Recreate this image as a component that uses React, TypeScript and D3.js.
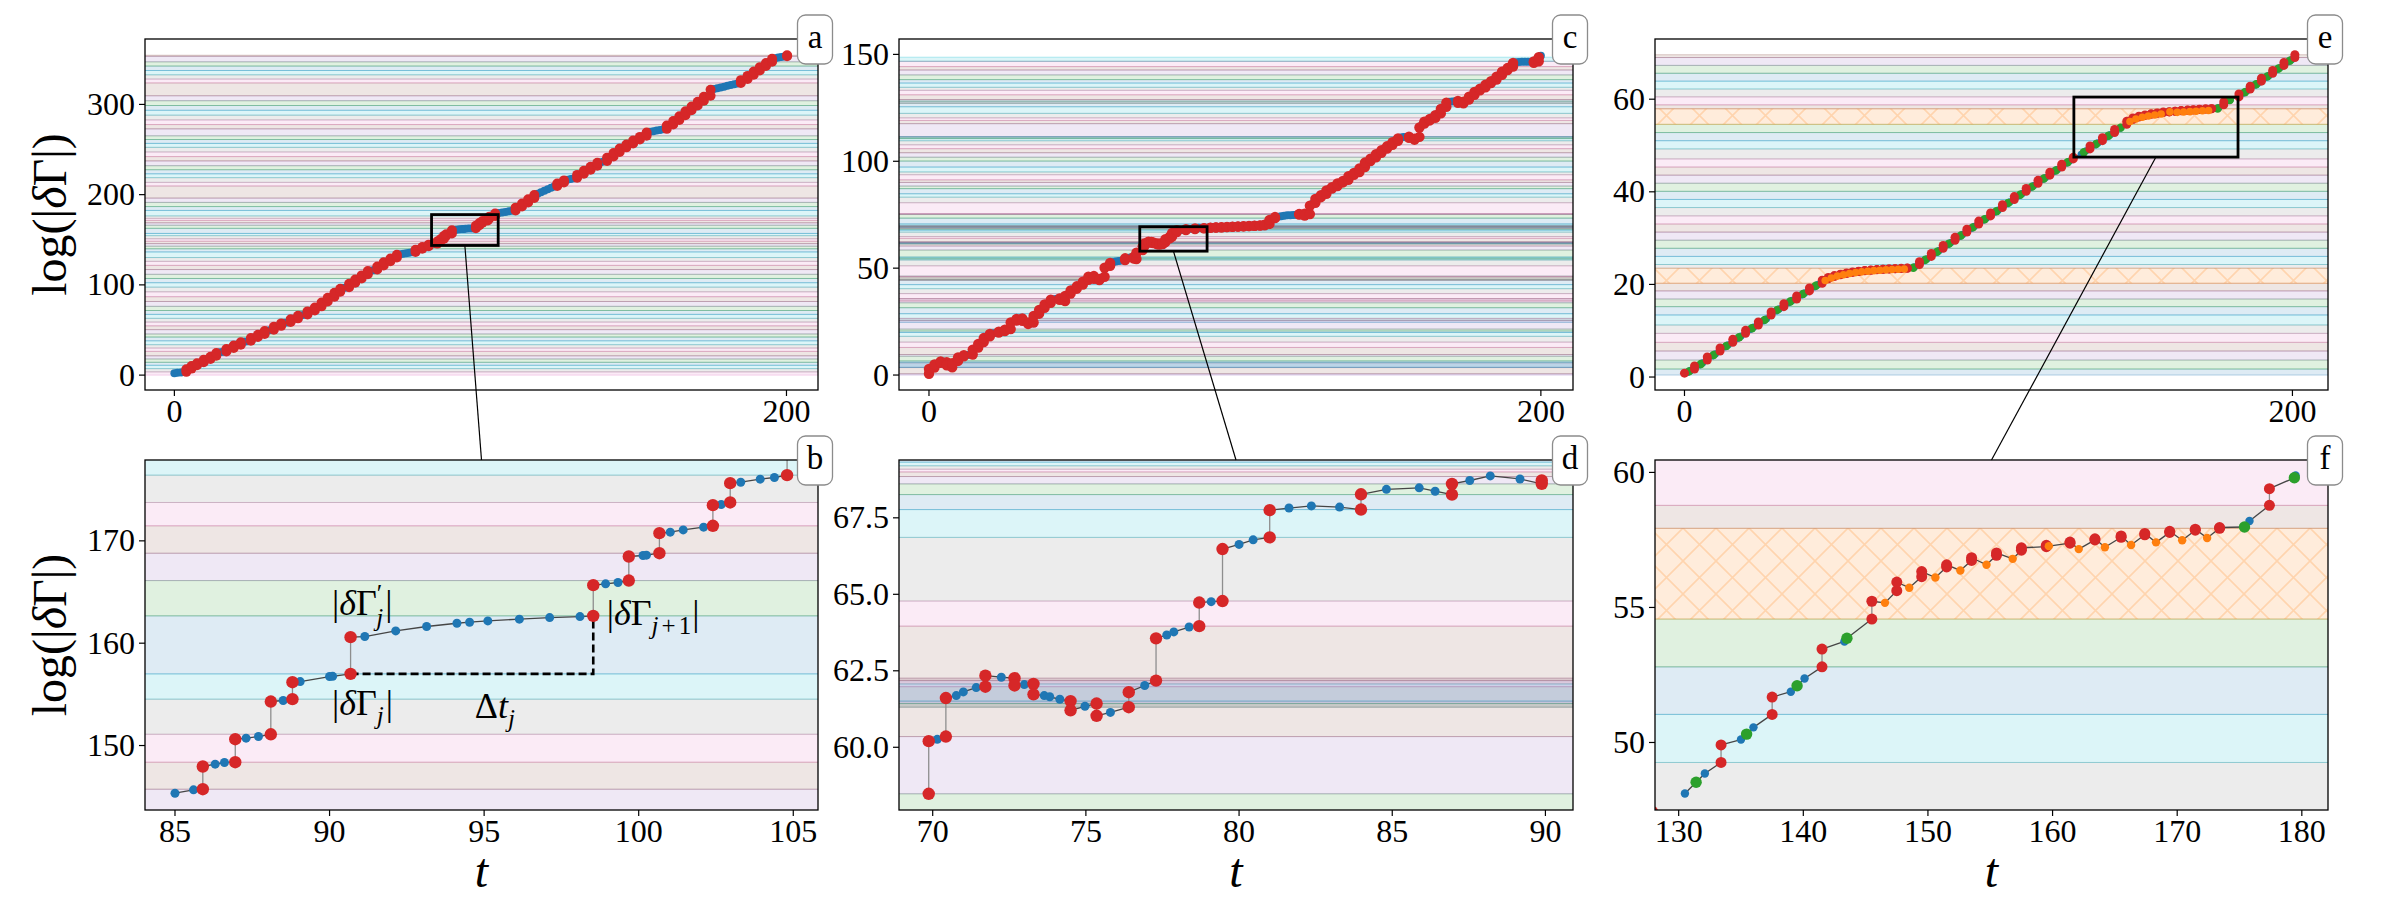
import React, { useEffect, useRef } from 'react';
import * as d3 from 'd3';

type Pt = [number, number];
type Jump = [number, number, number]; // t, value before the jump, value after it

const tab = {
  blue: '#1f77b4', orange: '#ff7f0e', green: '#2ca02c', red: '#d62728', purple: '#9467bd',
  brown: '#8c564b', pink: '#e377c2', gray: '#7f7f7f', cyan: '#17becf',
};
const bandCycle = [tab.blue, tab.green, tab.purple, tab.brown, tab.pink, tab.gray, tab.cyan];

// ---------- column 1: panels a, b ----------
const jumpsA: Jump[] = [
  [3.9, 3.6, 6.4], [5.6, 7.2, 10.1], [7.4, 10.9, 13.2], [9.6, 14.2, 16.9], [11.8, 17.9, 20.3],
  [13.7, 21.4, 24.6], [17.0, 26.3, 29.0], [19.4, 30.0, 32.7], [21.7, 33.7, 36.5], [25.0, 38.0, 41.2],
  [27.3, 42.2, 44.6], [29.5, 45.6, 48.9], [32.5, 50.4, 53.6], [34.9, 54.6, 57.3], [38.0, 58.8, 61.9],
  [40.4, 62.9, 65.8], [43.5, 67.3, 70.6], [45.9, 71.6, 74.8], [48.1, 76.2, 80.4], [50.1, 81.6, 85.7],
  [52.3, 86.9, 91.2], [54.2, 92.3, 95.8], [57.1, 97.5, 101.2], [59.1, 102.4, 106.0], [61.2, 107.1, 110.5],
  [63.2, 111.7, 115.3], [66.3, 117.0, 120.4], [68.4, 121.6, 125.0], [70.6, 126.1, 129.2], [72.7, 130.3, 133.4],
  [78.8, 136.5, 139.0], [81.0, 140.0, 142.0], [83.1, 142.9, 144.6],
  [85.9, 145.73, 147.95], [86.95, 148.37, 150.62], [88.1, 151.1, 154.3], [88.8, 154.53, 156.19],
  [90.68, 157.0, 160.59], [98.53, 162.67, 165.67], [99.68, 166.12, 168.47], [100.67, 168.79, 170.75],
  [102.4, 171.47, 173.49], [102.96, 173.75, 175.64], [104.8, 176.42, 179.0],
  [111.5, 182.5, 185.6], [113.6, 186.8, 190.2], [115.6, 191.4, 195.0], [117.6, 196.2, 199.5],
  [125.1, 209.6, 212.4], [127.3, 213.6, 215.8], [131.6, 218.8, 221.9], [133.8, 223.1, 226.4],
  [136.0, 227.6, 230.9], [138.2, 232.1, 235.3], [141.4, 237.4, 241.0], [143.5, 242.2, 246.1],
  [145.5, 247.3, 251.2], [147.7, 252.4, 255.6], [149.9, 256.8, 259.9], [152.1, 261.1, 264.0],
  [154.3, 265.2, 268.9], [160.9, 272.9, 276.5], [163.0, 277.7, 281.6], [165.0, 282.8, 286.9],
  [167.0, 288.1, 292.3], [169.0, 293.5, 297.6], [171.0, 298.8, 302.9], [173.0, 304.1, 308.4],
  [175.2, 309.6, 316.2], [185.1, 323.8, 326.9], [187.3, 328.1, 331.6], [189.3, 332.8, 336.4],
  [191.3, 337.6, 341.3], [193.3, 342.5, 346.0], [195.3, 347.2, 350.6], [200.2, 353.3, 354.5],
];
const blueA: Pt[] = [
  [0.0, 2.2], [1.0, 2.6], [2.2, 3.0], [3.2, 3.4], [4.8, 6.9], [6.5, 10.6], [8.5, 13.8], [10.7, 17.5],
  [12.8, 20.9], [14.9, 25.3], [16.0, 25.9], [18.2, 29.6], [20.6, 33.3], [22.9, 37.1], [24.0, 37.6],
  [26.1, 41.8], [28.4, 45.2], [30.6, 49.5], [31.6, 50.0], [33.7, 54.2], [36.0, 57.9], [37.1, 58.4],
  [39.2, 62.5], [41.5, 66.4], [42.6, 66.9], [44.7, 71.2], [47.0, 75.4], [49.1, 81.1], [51.2, 86.4],
  [53.3, 91.9], [55.2, 96.5], [56.2, 97.1], [58.1, 101.9], [60.1, 106.7], [62.2, 111.2], [64.3, 116.0],
  [65.3, 116.6], [67.4, 121.1], [69.5, 125.7], [71.7, 129.9], [73.8, 134.0], [74.8, 134.6], [75.8, 135.1],
  [76.8, 135.6], [77.8, 136.1], [79.9, 139.6], [82.1, 142.6],
  [85.0, 145.34], [85.6, 145.67], [86.3, 148.18], [86.6, 148.34], [87.3, 150.72], [87.7, 150.88],
  [88.5, 154.4], [89.05, 156.25], [90.0, 156.74], [90.1, 156.76], [91.14, 160.65], [92.14, 161.2],
  [93.14, 161.63], [94.12, 161.95], [94.53, 162.05], [95.12, 162.18], [96.14, 162.35], [97.12, 162.5],
  [98.1, 162.6], [98.93, 165.8], [99.33, 165.93], [100.14, 168.57], [100.25, 168.6], [101.02, 170.85],
  [101.44, 171.07], [102.1, 171.34], [102.67, 173.55], [103.3, 175.73], [103.93, 176.03], [104.39, 176.19],
  [106.0, 179.7], [107.1, 180.3], [108.2, 180.9], [109.3, 181.5], [110.4, 182.1], [112.6, 186.3],
  [114.6, 190.9], [116.6, 195.7], [118.7, 201.0], [119.8, 202.7], [120.9, 204.4], [122.0, 206.0],
  [123.1, 207.6], [124.1, 209.0], [126.2, 213.1], [128.4, 216.5], [129.5, 217.4], [130.6, 218.3],
  [132.7, 222.6], [134.9, 227.1], [137.1, 231.6], [139.3, 236.0], [140.4, 236.9], [142.5, 241.7],
  [144.5, 246.8], [146.6, 251.9], [148.8, 256.3], [151.0, 260.6], [153.2, 264.7], [155.4, 269.6],
  [156.5, 270.3], [157.6, 271.0], [158.7, 271.7], [159.8, 272.4], [162.0, 277.2], [164.0, 282.3],
  [166.0, 287.6], [168.0, 293.0], [170.0, 298.3], [172.0, 303.6], [174.1, 309.1], [176.3, 317.0],
  [177.4, 317.9], [178.5, 318.8], [179.6, 319.7], [180.7, 320.6], [181.8, 321.5], [182.9, 322.4],
  [184.0, 323.3], [186.2, 327.6], [188.3, 332.3], [190.3, 337.1], [192.3, 342.0], [194.3, 346.7],
  [196.3, 351.3], [197.3, 351.9], [198.3, 352.5], [199.3, 353.0],
];

// ---------- column 2: panels c, d ----------
const jumpsC: Jump[] = [
  [0.0, 0.6, 2.8], [1.8, 3.5, 5.0], [3.8, 5.7, 6.4], [5.8, 6.0, 4.6], [7.6, 3.6, 5.5], [9.5, 6.6, 8.2],
  [11.4, 8.8, 9.3], [14.3, 9.6, 11.9], [16.1, 12.9, 14.6], [17.9, 15.4, 17.3], [19.9, 18.1, 19.2],
  [22.8, 19.9, 20.3], [24.8, 20.6, 21.2], [26.7, 21.5, 24.6], [28.6, 25.5, 26.2], [30.5, 26.5, 25.4],
  [32.4, 24.6, 23.9], [34.2, 24.6, 27.6], [36.0, 28.7, 30.5], [37.8, 31.5, 33.0], [39.8, 33.8, 35.2],
  [42.7, 35.8, 35.2], [44.5, 34.6, 37.0], [46.3, 38.1, 39.6], [48.3, 40.4, 41.5], [50.3, 42.3, 43.7],
  [52.1, 44.5, 46.0], [53.9, 46.3, 45.0], [55.7, 44.4, 44.9], [57.4, 46.0, 50.2], [59.2, 51.1, 52.4],
  [64.1, 53.8, 54.6], [67.0, 55.2, 54.5], [67.8, 54.3, 57.2],
  [69.87, 58.48, 60.2], [70.43, 60.35, 61.61], [71.72, 61.98, 62.34], [72.67, 62.26, 62.02],
  [73.29, 62.07, 61.73], [74.5, 61.51, 61.21], [75.35, 61.43, 61.03], [76.4, 61.31, 61.8],
  [77.29, 62.18, 63.56], [78.7, 63.96, 64.73], [79.46, 64.78, 66.48], [81.0, 66.86, 67.75],
  [83.98, 67.77, 68.27], [86.95, 68.26, 68.61], [89.88, 68.61, 68.72],
  [92.0, 68.85, 68.95], [93.8, 69.0, 69.05], [95.6, 69.09, 69.15], [97.4, 69.2, 69.28], [99.2, 69.32, 69.4],
  [101.0, 69.44, 69.52], [102.8, 69.56, 69.63], [104.6, 69.67, 69.75], [106.4, 69.79, 69.86],
  [108.2, 69.9, 70.0], [109.7, 70.08, 70.3], [111.3, 70.7, 72.6], [113.1, 73.4, 73.9],
  [121.0, 75.1, 75.3], [122.8, 75.5, 74.6], [124.5, 75.3, 79.2], [126.3, 80.6, 82.4], [128.1, 83.2, 84.1],
  [129.9, 84.8, 86.4], [131.7, 87.2, 87.9], [133.5, 88.4, 89.6], [135.3, 90.1, 90.8], [137.1, 91.3, 93.0],
  [138.9, 93.7, 94.5], [140.7, 95.0, 96.6], [142.5, 97.3, 99.4], [144.3, 100.1, 101.2], [146.1, 101.9, 103.3],
  [147.9, 104.0, 105.2], [149.7, 105.9, 107.0], [151.5, 107.7, 108.9], [153.3, 109.6, 110.7],
  [156.9, 111.5, 111.0], [158.7, 110.6, 110.1], [160.3, 111.4, 115.8], [161.9, 117.6, 118.5],
  [163.7, 119.1, 119.8], [165.5, 120.3, 121.6], [167.3, 122.4, 124.5], [169.1, 125.5, 127.4],
  [172.9, 128.2, 127.4], [174.7, 127.1, 127.9], [176.5, 128.9, 130.2], [178.3, 131.1, 132.4],
  [180.1, 133.2, 134.0], [181.9, 134.6, 135.8], [183.7, 136.6, 137.5], [185.5, 138.2, 139.6],
  [187.3, 140.4, 141.9], [189.1, 142.7, 143.6], [190.9, 144.3, 146.0], [197.7, 146.7, 146.1],
  [199.3, 146.8, 148.7],
];
const blueC: Pt[] = [
  [0.9, 3.2], [2.8, 5.4], [4.8, 6.3], [6.8, 3.9], [8.6, 6.2], [10.5, 8.6], [12.4, 9.4], [13.4, 9.5],
  [15.2, 12.5], [17.0, 15.1], [18.9, 17.8], [20.9, 19.5], [21.9, 19.7], [23.8, 20.5], [25.8, 21.4],
  [27.7, 25.2], [29.6, 26.4], [31.5, 24.9], [33.3, 24.2], [35.1, 28.3], [36.9, 31.1], [38.8, 33.5],
  [40.8, 35.5], [41.8, 35.7], [43.6, 34.8], [45.4, 37.7], [47.3, 40.1], [49.3, 42.0], [51.2, 44.2],
  [53.0, 46.2], [54.8, 44.6], [56.6, 45.6], [58.3, 50.8], [60.1, 52.8], [61.1, 53.1], [62.1, 53.4],
  [63.1, 53.6], [65.1, 54.9], [66.1, 55.1], [67.4, 54.4], [68.5, 57.6],
  [70.15, 60.26], [70.77, 61.69], [71.0, 61.81], [71.42, 61.95], [72.24, 62.29], [72.99, 62.05],
  [73.64, 61.69], [73.82, 61.65], [74.15, 61.57], [74.97, 61.34], [75.8, 61.14], [76.92, 62.02],
  [77.64, 63.67], [77.87, 63.77], [78.37, 63.93], [79.09, 64.76], [80.0, 66.63], [80.46, 66.78],
  [81.63, 67.82], [82.36, 67.89], [83.28, 67.85], [84.81, 68.43], [85.88, 68.48], [86.4, 68.37],
  [87.53, 68.72], [88.2, 68.87], [89.17, 68.77],
  [91.2, 68.78], [92.9, 68.98], [94.7, 69.07], [96.5, 69.17], [98.3, 69.3], [100.1, 69.42], [101.9, 69.54],
  [103.7, 69.65], [105.5, 69.77], [107.3, 69.88], [109.0, 70.05], [110.4, 70.5], [112.2, 73.1],
  [114.1, 74.1], [115.1, 74.3], [116.1, 74.5], [117.1, 74.7], [118.1, 74.8], [119.1, 74.9], [120.1, 75.0],
  [121.9, 75.4], [123.7, 74.9], [125.4, 80.1], [127.2, 82.9], [129.0, 84.5], [130.8, 86.9], [132.6, 88.2],
  [134.4, 89.9], [136.2, 91.1], [138.0, 93.4], [139.8, 94.8], [141.6, 97.0], [143.4, 99.8], [145.2, 101.6],
  [147.0, 103.7], [148.8, 105.6], [150.6, 107.4], [152.4, 109.3], [154.2, 111.1], [155.1, 111.3],
  [156.0, 111.4], [157.8, 110.8], [159.5, 110.9], [161.1, 117.0], [162.8, 118.9], [164.6, 120.1],
  [166.4, 122.1], [168.2, 125.1], [170.0, 127.8], [171.0, 128.0], [172.0, 128.1], [173.8, 127.2],
  [175.6, 128.5], [177.4, 130.8], [179.2, 132.9], [181.0, 134.4], [182.8, 136.3], [184.6, 137.9],
  [186.4, 140.1], [188.2, 142.4], [190.0, 144.0], [191.8, 146.3], [192.8, 146.4], [193.8, 146.5],
  [194.8, 146.5], [195.8, 146.6], [196.8, 146.6], [198.5, 146.4], [200.0, 149.4],
];

// ---------- column 3: panels e, f ----------
const redE: Pt[] = [[0.0, 0.83]];
const jumpsE: Jump[] = [
  [3.3, 1.73, 2.38], [7.5, 3.67, 4.32], [11.7, 5.62, 6.27], [15.9, 7.49, 8.14], [20.1, 9.43, 10.08],
  [24.3, 11.24, 11.89], [28.5, 13.4, 14.05], [32.7, 15.2, 15.85], [36.9, 16.85, 17.5], [41.1, 18.6, 19.25],
  [45.3, 20.25, 20.9],
  [47.3, 21.2, 21.5], [49.3, 21.7, 21.9], [51.3, 22.1, 22.2], [53.3, 22.35, 22.45], [55.3, 22.6, 22.68],
  [57.3, 22.78, 22.85], [59.3, 22.93, 22.98], [61.3, 23.05, 23.1], [63.3, 23.16, 23.2], [65.3, 23.25, 23.28],
  [67.3, 23.32, 23.35], [69.3, 23.38, 23.41], [71.3, 23.44, 23.47], [73.3, 23.5, 23.52],
  [77.3, 24.3, 24.92], [81.2, 26.05, 26.67], [85.1, 27.8, 28.42], [89.0, 29.55, 30.17], [92.9, 31.3, 31.92],
  [96.8, 33.05, 33.67], [100.7, 34.8, 35.42], [104.6, 36.6, 37.22], [108.5, 38.35, 38.97], [112.4, 40.1, 40.72],
  [116.3, 41.85, 42.47], [120.2, 43.6, 44.22], [124.1, 45.35, 45.97], [127.9, 47.1, 47.45],
  [133.4, 49.26, 49.91], [137.5, 51.04, 51.68], [141.5, 52.8, 53.46], [145.5, 54.57, 55.23],
  [147.5, 55.62, 55.94], [149.5, 56.14, 56.33], [151.5, 56.5, 56.58], [153.5, 56.74, 56.84],
  [155.5, 56.93, 57.02], [157.5, 57.12, 57.21], [159.5, 57.25, 57.3], [161.4, 57.38, 57.42],
  [163.4, 57.5, 57.54], [165.5, 57.6, 57.65], [167.4, 57.69, 57.74], [169.4, 57.78, 57.82],
  [171.45, 57.86, 57.9], [173.4, 57.93, 57.96], [177.4, 58.78, 59.4],
  [182.4, 60.5, 61.12], [186.1, 62.2, 62.82], [189.8, 63.9, 64.52], [193.5, 65.6, 66.22],
  [197.2, 67.3, 67.92], [200.8, 69.0, 69.6],
];
const blueE: Pt[] = [
  [1.0, 1.02], [2.0, 1.42], [4.9, 2.6], [6.0, 3.08], [9.1, 4.54], [10.2, 5.02], [13.3, 6.49], [14.4, 6.97],
  [17.5, 8.36], [18.6, 8.84], [21.7, 10.3], [22.8, 10.78], [25.9, 12.11], [27.0, 12.59], [30.1, 14.27],
  [31.2, 14.75], [34.3, 16.07], [35.4, 16.55], [38.5, 17.72], [39.6, 18.2], [42.7, 19.47], [43.8, 19.95],
  [75.7, 23.8],
  [78.8, 25.12], [79.8, 25.54], [82.7, 26.87], [83.7, 27.29], [86.6, 28.62], [87.6, 29.04], [90.5, 30.37],
  [91.5, 30.79], [94.4, 32.12], [95.4, 32.54], [98.3, 33.87], [99.3, 34.29], [102.2, 35.62], [103.2, 36.04],
  [106.1, 37.42], [107.1, 37.84], [110.0, 39.17], [111.0, 39.59], [113.9, 40.92], [114.9, 41.34],
  [117.8, 42.67], [118.8, 43.09], [121.7, 44.42], [122.7, 44.84], [125.6, 46.17], [126.6, 46.59],
  [130.5, 48.11], [132.1, 48.85], [135.0, 50.11], [136.0, 50.56], [139.0, 51.88], [140.1, 52.37],
  [143.3, 53.74], [175.8, 58.2], [179.5, 59.89],
  [183.9, 61.32], [184.9, 61.74], [187.6, 63.02], [188.6, 63.44], [191.3, 64.72], [192.3, 65.14],
  [195.0, 66.42], [196.0, 66.84], [198.7, 68.12], [199.7, 68.54],
];
const greenE: Pt[] = [
  [1.5, 1.22], [5.4, 2.83], [9.6, 4.77], [13.8, 6.72], [18.0, 8.59], [22.2, 10.53], [26.4, 12.34],
  [30.6, 14.5], [34.8, 16.3], [39.0, 17.95], [43.2, 19.7], [75.3, 23.6],
  [79.25, 25.32], [83.15, 27.07], [87.05, 28.82], [90.95, 30.57], [94.85, 32.32], [98.75, 34.07],
  [102.65, 35.82], [106.55, 37.62], [110.45, 39.37], [114.35, 41.12], [118.25, 42.87], [122.15, 44.62],
  [126.05, 46.37], [131.4, 48.53], [135.45, 50.31], [139.5, 52.1], [143.5, 53.86], [175.4, 57.98],
  [179.4, 59.8], [184.35, 61.52], [188.05, 63.22], [191.75, 64.92], [195.45, 66.62], [199.15, 68.32],
];
const orangeE: Pt[] = [
  [46.3, 20.85], [48.3, 21.4], [50.3, 21.8], [52.3, 22.1], [54.3, 22.35], [56.3, 22.55], [58.3, 22.72],
  [60.3, 22.86], [62.3, 22.97], [64.3, 23.07], [66.3, 23.15], [68.3, 23.22], [70.3, 23.28], [72.3, 23.34],
  [146.55, 55.17], [148.5, 55.73], [150.6, 56.11], [152.6, 56.37], [154.7, 56.58], [156.8, 56.8],
  [159.7, 57.27], [162.1, 57.16], [164.2, 57.23], [166.3, 57.31], [168.3, 57.41], [170.4, 57.49], [172.4, 57.57],
];
// time spans of the two slow plateaus, shaded as one hatched band each
const plateausE: Pt[] = [[45.3, 73.3], [145.5, 173.4]];

// axis limits and ticks, panels a..f
const panelKeys = ['a', 'b', 'c', 'd', 'e', 'f'];
const xLimits: Pt[] = [[-9.6, 210.3], [84.03, 105.8], [-9.8, 210.5], [68.9, 90.9], [-9.7, 211.7], [128.1, 182.1]];
const yLimits: Pt[] = [[-16.5, 372.5], [143.7, 177.9], [-7, 157.2], [57.95, 69.39], [-2.8, 73.0], [47.5, 60.46]];
const xTicks: number[][] = [[0, 200], [85, 90, 95, 100, 105], [0, 200], [70, 75, 80, 85, 90], [0, 200], [130, 140, 150, 160, 170, 180]];
const yTicks: number[][] = [[0, 100, 200, 300], [150, 160, 170], [0, 50, 100, 150], [60, 62.5, 65, 67.5], [0, 20, 40, 60], [50, 55, 60]];

const series = [
  { jumps: jumpsA, dots: [['blue', blueA]], floor: 0, plateaus: [] as Pt[], anchor: [90.68, 0] },
  { jumps: jumpsC, dots: [['blue', blueC]], floor: 0, plateaus: [] as Pt[], anchor: [69.87, 2] },
  { jumps: jumpsE, dots: [['blue', blueE], ['green', greenE], ['red', redE], ['orange', orangeE]], floor: 0.43, plateaus: plateausE, anchor: [-1, 0] },
];

const serif = "'Liberation Serif', Tinos, 'Times New Roman', 'Nimbus Roman', 'DejaVu Serif Condensed', 'DejaVu Serif', serif";
const colLeft = [145, 899, 1655];
const colWidth = [673, 674, 673];
const rowTop = [39, 460];
const rowHeight = [351, 350];

const dotR: any = {
  a: { blue: 4.0, green: 4.0, red: 5.0, orange: 4.0 },
  b: { blue: 4.5, green: 4.5, red: 6.2, orange: 4.5 },
  c: { blue: 4.0, green: 4.0, red: 5.2, orange: 4.0 },
  d: { blue: 4.5, green: 4.5, red: 6.2, orange: 4.5 },
  e: { blue: 3.6, green: 4.2, red: 4.5, orange: 3.8 },
  f: { blue: 4.2, green: 5.7, red: 5.5, orange: 4.2 },
};

// bands between successive pre-jump levels; plateau jumps collapse into one hatched band
function buildBands(s: any) {
  const js = [...s.jumps].sort((p: Jump, q: Jump) => p[0] - q[0]);
  const out: any[] = [];
  let lo = s.floor;
  let loT = -1;
  for (const j of js) {
    const p = s.plateaus.find((q: Pt) => j[0] > q[0] && j[0] <= q[1]);
    if (p && j[0] < p[1]) continue;
    out.push({ lo, hi: j[1], loT, hatch: !!p });
    lo = j[1];
    loT = j[0];
  }
  out.push({ lo, hi: js[js.length - 1][2], loT, hatch: false });
  const k = out.findIndex((b) => b.loT === s.anchor[0]);
  const off = (((s.anchor[1] - k) % 7) + 7) % 7;
  out.forEach((b, i) => { b.color = b.hatch ? tab.orange : bandCycle[(i + off) % 7]; });
  return out;
}

// ordered trajectory inside a time window: flow segments and vertical jump segments
function buildTrack(s: any, t0: number, t1: number) {
  const ev: any[] = s.jumps.map((j: Jump) => ({ t: j[0], pts: [[j[0], j[1]], [j[0], j[2]]] }));
  s.dots.forEach(([, pts]: any) => pts.forEach((p: Pt) => ev.push({ t: p[0], pts: [p] })));
  const inside = ev.filter((e) => e.t >= t0 && e.t <= t1).sort((a, b) => a.t - b.t);
  const flow: [Pt, Pt][] = [];
  const jump: [Pt, Pt][] = [];
  let prev: Pt | null = null;
  inside.forEach((e) => {
    e.pts.forEach((p: Pt, i: number) => {
      if (prev) (i === 1 ? jump : flow).push([prev, p]);
      prev = p;
    });
  });
  return { flow, jump };
}

export default function App() {
  const ref = useRef<SVGSVGElement>(null);

  useEffect(() => {
    const svg = d3.select(ref.current);
    svg.selectAll('*').remove();
    svg.append('rect').attr('width', 2400).attr('height', 900).attr('fill', '#fff');
    const defs = svg.append('defs');
    const pat = defs.append('pattern').attr('id', 'hatchX').attr('patternUnits', 'userSpaceOnUse')
      .attr('width', 33).attr('height', 33);
    pat.append('path').attr('d', 'M-4,-4L37,37M-4,37L37,-4')
      .attr('stroke', tab.orange).attr('stroke-opacity', 0.22).attr('stroke-width', 1.6);

    const sc: any = {};
    const bandsByCol = series.map(buildBands);
    const font = (sel: any, size: number) =>
      sel.style('font-family', serif).style('font-stretch', 'condensed').style('font-size', `${size}px`);

    panelKeys.forEach((key, idx) => {
      const col = Math.floor(idx / 2);
      const row = idx % 2;
      const left = colLeft[col], top = rowTop[row], w = colWidth[col], h = rowHeight[row];
      const x = d3.scaleLinear().domain(xLimits[idx]).range([left, left + w]);
      const y = d3.scaleLinear().domain(yLimits[idx]).range([top + h, top]);
      sc[key] = { x, y, left, top, w, h };
      const s: any = series[col];
      const small = row === 0;

      defs.append('clipPath').attr('id', 'clip-' + key).append('rect')
        .attr('x', left).attr('y', top).attr('width', w).attr('height', h);
      const g = svg.append('g').attr('clip-path', `url(#clip-${key})`);

      // shaded level bands
      bandsByCol[col].forEach((b: any) => {
        const y0 = y(Math.max(b.lo, b.hi));
        const y1 = y(Math.min(b.lo, b.hi));
        g.append('rect').attr('x', left - 3).attr('y', y0).attr('width', w + 6).attr('height', Math.max(0, y1 - y0))
          .attr('fill', b.color).attr('fill-opacity', 0.15)
          .attr('stroke', b.color).attr('stroke-opacity', 0.3).attr('stroke-width', 1);
        if (b.hatch) {
          g.append('rect').attr('x', left).attr('y', y0).attr('width', w).attr('height', Math.max(0, y1 - y0))
            .attr('fill', 'url(#hatchX)');
        }
      });

      // dashed interval marker in panel b
      if (key === 'b') {
        const ja = jumpsA.find((j) => j[0] === 90.68)!;
        const jb = jumpsA.find((j) => j[0] === 98.53)!;
        g.append('path')
          .attr('d', `M${x(ja[0])},${y(ja[1])}H${x(jb[0])}V${y(jb[1])}`)
          .attr('fill', 'none').attr('stroke', '#000').attr('stroke-width', 2.6).attr('stroke-dasharray', '8,4');
      }

      // the zoomed panels only trace the points inside their own window
      const tr = small ? buildTrack(s, -Infinity, Infinity) : buildTrack(s, xLimits[idx][0], xLimits[idx][1]);
      const lw = small ? 1.0 : 1.3;
      g.append('g').selectAll('line').data(tr.flow).join('line')
        .attr('x1', (d: any) => x(d[0][0])).attr('y1', (d: any) => y(d[0][1]))
        .attr('x2', (d: any) => x(d[1][0])).attr('y2', (d: any) => y(d[1][1]))
        .attr('stroke', '#454545').attr('stroke-width', lw);
      g.append('g').selectAll('line').data(tr.jump).join('line')
        .attr('x1', (d: any) => x(d[0][0])).attr('y1', (d: any) => y(d[0][1]))
        .attr('x2', (d: any) => x(d[1][0])).attr('y2', (d: any) => y(d[1][1]))
        .attr('stroke', '#8e8e8e').attr('stroke-width', lw);

      // markers: blue, green, red (jump ends), orange
      const reds: Pt[] = [];
      s.jumps.forEach((j: Jump) => { reds.push([j[0], j[1]]); reds.push([j[0], j[2]]); });
      const byKind: any = { blue: [], green: [], red: reds, orange: [] };
      s.dots.forEach(([k, pts]: any) => { byKind[k] = byKind[k].concat(pts); });
      ['blue', 'green', 'red', 'orange'].forEach((k) => {
        g.append('g').selectAll('circle').data(byKind[k]).join('circle')
          .attr('cx', (d: any) => x(d[0])).attr('cy', (d: any) => y(d[1]))
          .attr('r', dotR[key][k]).attr('fill', (tab as any)[k]);
      });

      // frame and ticks
      svg.append('rect').attr('x', left).attr('y', top).attr('width', w).attr('height', h)
        .attr('fill', 'none').attr('stroke', '#000').attr('stroke-width', 1.3);
      const fmt = key === 'd' ? d3.format('.1f') : d3.format('d');
      const ax = font(svg.append('g'), 32).attr('fill', '#000');
      xTicks[idx].forEach((t) => {
        ax.append('line').attr('x1', x(t)).attr('x2', x(t)).attr('y1', top + h).attr('y2', top + h + 6)
          .attr('stroke', '#000').attr('stroke-width', 1.2);
        ax.append('text').attr('x', x(t)).attr('y', top + h + 32).attr('text-anchor', 'middle').text(String(t));
      });
      yTicks[idx].forEach((t) => {
        ax.append('line').attr('x1', left - 6).attr('x2', left).attr('y1', y(t)).attr('y2', y(t))
          .attr('stroke', '#000').attr('stroke-width', 1.2);
        ax.append('text').attr('x', left - 10).attr('y', y(t)).attr('dy', '0.33em')
          .attr('text-anchor', 'end').text(fmt(t));
      });

      if (row === 1) {
        font(svg.append('text'), 48).attr('x', left + w / 2).attr('y', 887).attr('text-anchor', 'middle')
          .style('font-style', 'italic').text('t');
      }
      if (col === 0) {
        const yl = font(svg.append('text'), 48).attr('transform', `translate(66,${top + h / 2}) rotate(-90)`)
          .attr('text-anchor', 'middle');
        yl.append('tspan').text('log(|');
        yl.append('tspan').style('font-style', 'italic').text('δ');
        yl.append('tspan').text('Γ|)');
      }
    });

    // zoom windows in the top row and their connectors
    [0, 1, 2].forEach((col) => {
      const topP = sc[panelKeys[col * 2]];
      const botKey = panelKeys[col * 2 + 1];
      const bx = xLimits[col * 2 + 1];
      const by = yLimits[col * 2 + 1];
      const rx0 = topP.x(bx[0]), rx1 = topP.x(bx[1]);
      const ry0 = topP.y(by[1]), ry1 = topP.y(by[0]);
      svg.append('rect').attr('x', rx0).attr('y', ry0).attr('width', rx1 - rx0).attr('height', ry1 - ry0)
        .attr('fill', 'none').attr('stroke', '#000').attr('stroke-width', 2.8);
      const bp = sc[botKey];
      svg.append('line').attr('x1', (rx0 + rx1) / 2).attr('y1', ry1)
        .attr('x2', bp.left + bp.w / 2).attr('y2', bp.top)
        .attr('stroke', '#000').attr('stroke-width', 1.2);
    });

    // annotations in panel b
    const b = sc.b;
    const ann = font(svg.append('g'), 36).attr('fill', '#000');
    const sub = (sel: any) => sel.style('font-size', '25px');
    const t1 = ann.append('text').attr('x', b.x(90.08)).attr('y', b.y(162.75));
    t1.append('tspan').text('|');
    t1.append('tspan').style('font-style', 'italic').text('δ');
    t1.append('tspan').text('Γ');
    sub(t1.append('tspan').attr('dy', -13)).text('′');
    sub(t1.append('tspan').style('font-style', 'italic').attr('dx', -6).attr('dy', 24)).text('j');
    t1.append('tspan').attr('dy', -11).attr('dx', 2).text('|');

    const t2 = ann.append('text').attr('x', b.x(98.97)).attr('y', b.y(161.77));
    t2.append('tspan').text('|');
    t2.append('tspan').style('font-style', 'italic').text('δ');
    t2.append('tspan').text('Γ');
    sub(t2.append('tspan').style('font-style', 'italic').attr('dy', 9)).text('j');
    sub(t2.append('tspan').attr('dx', 3)).text('+');
    sub(t2.append('tspan').attr('dx', 3)).text('1');
    t2.append('tspan').attr('dy', -9).attr('dx', 1).text('|');

    const t3 = ann.append('text').attr('x', b.x(90.08)).attr('y', b.y(152.97));
    t3.append('tspan').text('|');
    t3.append('tspan').style('font-style', 'italic').text('δ');
    t3.append('tspan').text('Γ');
    sub(t3.append('tspan').style('font-style', 'italic').attr('dy', 9)).text('j');
    t3.append('tspan').attr('dy', -9).attr('dx', 2).text('|');

    const t4 = ann.append('text').attr('x', b.x(94.7)).attr('y', b.y(152.68));
    t4.append('tspan').text('Δ');
    t4.append('tspan').style('font-style', 'italic').text('t');
    sub(t4.append('tspan').style('font-style', 'italic').attr('dy', 9)).text('j');

    // panel letters
    panelKeys.forEach((key) => {
      const p = sc[key];
      const cx = p.left + p.w - 3;
      const cy = p.top + 0.5;
      svg.append('rect').attr('x', cx - 17.5).attr('y', cy - 24.5).attr('width', 35).attr('height', 49)
        .attr('rx', 8).attr('fill', '#fff').attr('stroke', '#8c8c8c').attr('stroke-width', 1.3);
      font(svg.append('text'), 33).attr('x', cx).attr('y', cy + 8).attr('text-anchor', 'middle').text(key);
    });
  }, []);

  return (
    <svg ref={ref} width={2400} height={900} style={{ position: 'absolute', left: 0, top: 0 }} />
  );
}
